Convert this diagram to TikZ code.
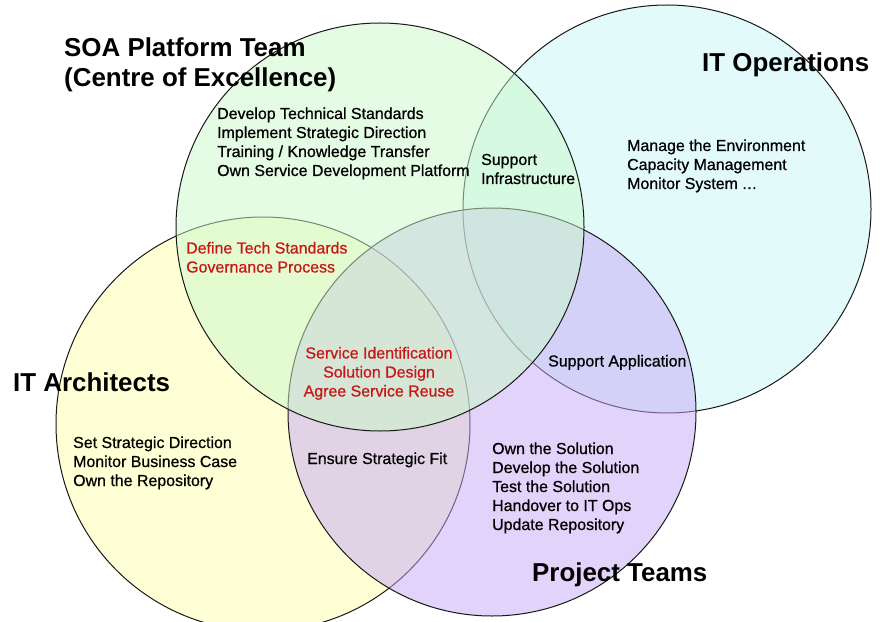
\documentclass[tikz,border=0pt]{standalone}
\usepackage{fontspec}
\setmainfont{Liberation Sans}
\newfontfamily\bodyfont{Liberation Sans}[RawFeature={embolden=0.7}]
\definecolor{yelc}{RGB}{255,255,173}
\definecolor{cyac}{RGB}{201,247,247}
\definecolor{purc}{RGB}{197,169,245}
\definecolor{grec}{RGB}{203,249,203}
\definecolor{redc}{RGB}{200,22,22}
\newcommand{\mydots}{.\kern0.5pt.\kern0.5pt.}
\begin{document}
\begin{tikzpicture}[x=1bp,y=-1bp,
  ring/.style={circle, draw=black!90, line width=1bp, fill opacity=0.5, inner sep=0pt},
  body/.style={font=\bodyfont\fontsize{16}{19}\selectfont, inner sep=0pt, anchor=base west},
  redbody/.style={body, text=redc},
  title/.style={font=\bfseries\fontsize{26}{30}\selectfont, inner sep=0pt, anchor=base west}]
\useasboundingbox (0,0) rectangle (883,622);
\fill[white] (0,0) rectangle (883,622);
\begin{scope}
\clip (0,0) rectangle (883,622);
\node[ring, fill=yelc, minimum size=414bp] (yel) at (263,424) {};
\node[ring, fill=cyac, minimum size=408bp] (cya) at (667,209) {};
\node[ring, fill=purc, minimum size=408bp] (pur) at (492,412) {};
\node[ring, fill=grec, minimum size=408bp] (gre) at (380,227) {};
\end{scope}
% titles
\node[title] (t1) at (64,57) {SOA Platform Team};
\node[title] (t2) at (64,87) {(Centre of Excellence)};
\node[title] (t3) at (702,72) {IT Operations};
\node[title] (t4) at (13,391) {IT Architects};
\node[title] (t5) at (532,581) {Project Teams};
% SOA list
\foreach \t [count=\i from 0] in {{Develop Technical Standards},{Implement Strategic Direction},{Training / Knowledge Transfer},{Own Service Development Platform}}
  \node[body] (soa\i) at (217,119+19*\i) {\t};
% Support infrastructure
\foreach \t [count=\i from 0] in {{Support},{Infrastructure}}
  \node[body] (sup\i) at (481,165+19*\i) {\t};
% IT Ops
\node[body] (ops0) at (627,151) {Manage the Environment};
\node[body] (ops1) at (627,170) {Capacity Management};
\node[body] (ops2) at (627,189) {Monitor System \mydots};
% Define tech
\foreach \t [count=\i from 0] in {{Define Tech Standards},{Governance Process}}
  \node[redbody] (def\i) at (186,253.5+19*\i) {\t};
% Centre
\foreach \t [count=\i from 0] in {{Service Identification},{Solution Design},{Agree Service Reuse}}
  \node[redbody, anchor=base] (cen\i) at (379,358.5+19*\i) {\t};
% IT architects list
\foreach \t [count=\i from 0] in {{Set Strategic Direction},{Monitor Business Case},{Own the Repository}}
  \node[body] (arc\i) at (73,448+19*\i) {\t};
\node[body] (fit) at (307,464) {Ensure Strategic Fit};
\node[body] (app) at (548,366.5) {Support Application};
% Project list
\foreach \t [count=\i from 0] in {{Own the Solution},{Develop the Solution},{Test the Solution},{Handover to IT Ops},{Update Repository}}
  \node[body] (prj\i) at (492,454+19*\i) {\t};
\end{tikzpicture}
\end{document}
